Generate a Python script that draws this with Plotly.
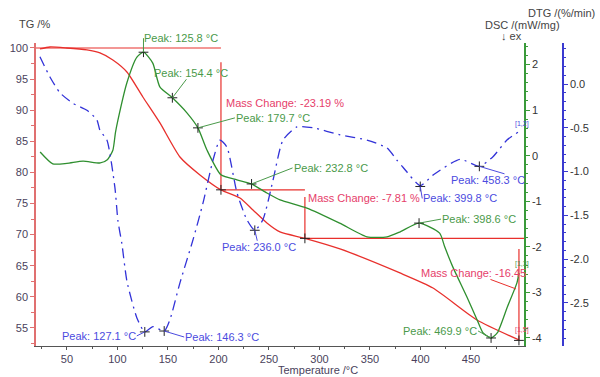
import plotly.graph_objects as go

# ---------------- data ----------------
# TG curve (%)
tg_T = [23.3, 33.2, 50.0, 69.8, 82.7, 95.5, 109.4, 125.2, 142.1, 161.9, 181.7, 202.5,
        221.3, 234.2, 248.0, 260.9, 285.6, 320.3, 379.7, 412.4, 456.0, 497.5]
tg_v = [99.84, 100.16, 100.0, 99.68, 99.2, 98.07, 96.14, 92.12, 87.95, 82.48, 79.6, 77.2,
        75.89, 73.96, 71.87, 70.43, 69.4, 67.7, 63.84, 61.43, 56.28, 53.07]

# DSC curve (mW/mg)
dsc_T = [23.5, 36.0, 50.0, 66.0, 83.0, 90.0, 95.5, 98.0, 100.5, 109.4, 119.3, 125.8, 135.0,
         142.0, 154.4, 168.8, 179.7, 188.6, 202.5, 218.3, 232.8, 248.0, 261.0, 287.6, 320.0,
         347.0, 367.0, 380.0, 398.6, 419.0, 424.0, 432.0, 446.0, 456.0, 462.0, 469.9, 476.0,
         486.0, 495.5, 497.5]
dsc_v = [0.08, -0.18, -0.17, -0.12, -0.16, -0.09, 0.12, 0.50, 0.78, 1.60, 2.16, 2.27, 2.03,
         1.51, 1.27, 0.94, 0.61, 0.125, -0.42, -0.53, -0.62, -0.82, -0.97, -1.15, -1.48,
         -1.78, -1.78, -1.67, -1.48, -1.70, -2.00, -2.44, -3.10, -3.60, -3.89, -4.00, -3.89,
         -3.32, -2.79, -2.57]

# DTG curve (%/min)
dtg_T = [23.3, 33.2, 43.1, 55.9, 69.8, 79.7, 82.7, 89.6, 97.5, 100.5, 104.5, 109.4, 119.3,
         127.1, 135.1, 146.3, 152.0, 161.9, 174.8, 184.7, 194.6, 201.5, 208.4, 218.3, 228.2,
         236.0, 244.0, 254.0, 263.9, 277.7, 293.6, 320.3, 347.0, 366.8, 376.7, 382.7, 399.8,
         412.4, 439.1, 458.3, 471.8, 485.6, 496.5]
dtg_v = [0.31, 0.08, -0.10, -0.22, -0.30, -0.41, -0.53, -0.64, -1.18, -1.56, -1.83, -2.25,
         -2.67, -2.83, -2.77, -2.82, -2.69, -2.27, -1.78, -1.36, -0.87, -0.64, -0.72, -1.24,
         -1.55, -1.67, -1.55, -1.10, -0.64, -0.49, -0.50, -0.58, -0.64, -0.73, -0.87, -0.95,
         -1.16, -1.04, -0.86, -0.94, -0.83, -0.64, -0.55]

# Peaks
dsc_peak_T = [125.8, 154.4, 179.7, 232.8, 398.6, 469.9]
dsc_peak_v = [2.27, 1.27, 0.61, -0.62, -1.48, -4.00]
dtg_peak_T = [127.1, 146.3, 236.0, 399.8, 458.3]
dtg_peak_v = [-2.83, -2.82, -1.67, -1.17, -0.94]

# Mass change steps (TG)
step_T = [202.5, 285.6, 497.5]
step_level = [100.0, 77.2, 69.4, 53.0]
mass_change = [-23.19, -7.81, -16.45]

# Axis ticks
x_ticks = [50, 100, 150, 200, 250, 300, 350, 400, 450]
tg_ticks = [55, 60, 65, 70, 75, 80, 85, 90, 95, 100]
dsc_ticks = [-4, -3, -2, -1, 0, 1, 2]
dtg_ticks = [-2.5, -2.0, -1.5, -1.0, -0.5, 0.0]

# ---------------- styles ----------------
FONT = "Liberation Sans, Arial, sans-serif"
RED = "#e8302c"
GREEN = "#2f8f2f"
BLUE = "#3232d8"
RED_TXT = "#e6406a"
GREEN_TXT = "#4a9a4a"
BLUE_TXT = "#4b4be0"
TICK_TXT = "#4a3f5c"
X_RANGE = [19.4, 502.5]

fig = go.Figure()

fig.add_trace(go.Scatter(x=tg_T, y=tg_v, mode="lines", yaxis="y",
                         line=dict(color=RED, width=1.3, shape="spline", smoothing=0.6),
                         hoverinfo="skip"))
fig.add_trace(go.Scatter(x=dsc_T, y=dsc_v, mode="lines", yaxis="y2",
                         line=dict(color=GREEN, width=1.3, shape="spline", smoothing=0.6),
                         hoverinfo="skip"))
fig.add_trace(go.Scatter(x=dtg_T, y=dtg_v, mode="lines", yaxis="y3",
                         line=dict(color=BLUE, width=1.3, shape="spline", smoothing=0.6,
                                   dash="10px,5px,2px,5px"),
                         hoverinfo="skip"))

# Step lines for mass change
vline_top = [97.7, 76.05, 67.7]
hx = [X_RANGE[0], step_T[0], None, step_T[0], step_T[1], None, step_T[1], X_RANGE[1]]
hy = [step_level[0], step_level[0], None, step_level[1], step_level[1], None,
      step_level[2], step_level[2]]
fig.add_trace(go.Scatter(x=hx, y=hy, mode="lines", yaxis="y",
                         line=dict(color=RED, width=1.2), hoverinfo="skip"))
vx, vy = [], []
for i, t in enumerate(step_T):
    vx += [t, t, None]
    vy += [vline_top[i], step_level[i + 1], None]
fig.add_trace(go.Scatter(x=vx, y=vy, mode="lines", yaxis="y",
                         line=dict(color=RED, width=1.2), hoverinfo="skip"))

# Peak markers
cross = dict(symbol="cross-thin", size=7, line=dict(color="#222222", width=1))
fig.add_trace(go.Scatter(x=dsc_peak_T, y=dsc_peak_v, mode="markers", yaxis="y2",
                         marker=cross, hoverinfo="skip"))
fig.add_trace(go.Scatter(x=dtg_peak_T, y=dtg_peak_v, mode="markers", yaxis="y3",
                         marker=cross, hoverinfo="skip"))
fig.add_trace(go.Scatter(x=step_T, y=step_level[1:], mode="markers", yaxis="y",
                         marker=cross, hoverinfo="skip"))

annotations = []

# DSC peak labels: (ax, ay, xanchor)
dsc_off = [(0, -14, "left"), (19, -25, "center"), (37, -10, "left"),
           (41, -16, "left"), (22, -4, "left"), (-13, -7, "right")]
for t, v, (ax, ay, xa) in zip(dsc_peak_T, dsc_peak_v, dsc_off):
    annotations.append(dict(x=t, y=v, xref="x", yref="y2", text=f"Peak: {t:.1f} °C",
                            showarrow=True, arrowhead=0, arrowwidth=1, arrowcolor=GREEN_TXT,
                            ax=ax, ay=ay, xanchor=xa, yanchor="middle", standoff=0,
                            borderpad=0, font=dict(family=FONT, size=11, color=GREEN_TXT)))

dtg_off = [(-8, 4, "right"), (20, 6, "left"), (4, 17, "center"),
           (2, 12, "left"), (47, 14, "right")]
for t, v, (ax, ay, xa) in zip(dtg_peak_T, dtg_peak_v, dtg_off):
    annotations.append(dict(x=t, y=v, xref="x", yref="y3", text=f"Peak: {t:.1f} °C",
                            showarrow=True, arrowhead=0, arrowwidth=1, arrowcolor=BLUE_TXT,
                            ax=ax, ay=ay, xanchor=xa, yanchor="middle", standoff=0,
                            borderpad=0, font=dict(family=FONT, size=11, color=BLUE_TXT)))

# Mass change labels
mc_pos = [(205.4, 91.16), (286.6, 75.89)]
for (px, py), mc in zip(mc_pos, mass_change[:2]):
    annotations.append(dict(x=px, y=py, xref="x", yref="y", text=f"Mass Change: {mc:.2f} %",
                            showarrow=False, xanchor="left", yanchor="middle",
                            font=dict(family=FONT, size=11, color=RED_TXT)))
annotations.append(dict(x=494.6, y=61.27, xref="x", yref="y",
                        text=f"Mass Change: {mass_change[2]:.2f}",
                        showarrow=True, arrowhead=0, arrowwidth=1, arrowcolor=RED,
                        ax=-43, ay=-16, xanchor="center", yanchor="middle", standoff=0,
                        borderpad=0, font=dict(family=FONT, size=11, color=RED_TXT)))

# small bracket labels
for txt, yy, col in [("[1,2]", 87.8, BLUE_TXT), ("[1,3]", 65.3, GREEN_TXT), ("[1,5]", 54.7, RED_TXT)]:
    annotations.append(dict(x=491.6, y=yy, xref="x", yref="y", text=txt, showarrow=False,
                            xanchor="left", font=dict(family=FONT, size=7, color=col)))

# axis titles
title_font = dict(family=FONT, size=11, color="#444444")
annotations += [
    dict(x=-0.002, y=1.063, xref="paper", yref="paper", text="TG /%", showarrow=False,
         xanchor="center", yanchor="middle", font=title_font),
    dict(x=0.998, y=1.099, xref="paper", yref="paper", text="DTG /(%/min)", showarrow=False,
         xanchor="center", yanchor="middle", font=title_font),
    dict(x=0.924, y=1.059, xref="paper", yref="paper", text="DSC /(mW/mg)", showarrow=False,
         xanchor="center", yanchor="middle", font=title_font),
    dict(x=0.903, y=1.023, xref="paper", yref="paper", text="↓ ex", showarrow=False,
         xanchor="center", yanchor="middle", font=title_font),
    dict(x=0.535, y=-0.0795, xref="paper", yref="paper", text="Temperature /°C",
         showarrow=False, xanchor="center", yanchor="middle",
         font=dict(family=FONT, size=11, color=TICK_TXT)),
]

tickfont = dict(family=FONT, size=11, color=TICK_TXT)
fig.update_layout(
    width=600, height=377,
    margin=dict(l=36, r=37, t=43, b=31),
    paper_bgcolor="white", plot_bgcolor="white",
    showlegend=False,
    xaxis=dict(domain=[0, 488 / 527], range=X_RANGE, tickmode="array", tickvals=x_ticks,
               showgrid=False, zeroline=False, showline=True, linecolor="#555555",
               linewidth=1, ticks="outside", ticklen=3, tickcolor="#555555",
               tickfont=tickfont, automargin=False,
               minor=dict(tickmode="linear", tick0=25, dtick=50, ticks="outside",
                          ticklen=2, tickcolor="#555555", showgrid=False)),
    yaxis=dict(range=[52.1, 100.8], tickmode="array", tickvals=tg_ticks,
               showgrid=False, zeroline=False, showline=True, linecolor="#e07070",
               linewidth=1.5, ticks="outside", ticklen=4, tickcolor="#e07070",
               tickfont=tickfont, automargin=False,
               minor=dict(tickmode="linear", tick0=52.5, dtick=2.5, ticks="outside",
                          ticklen=3, tickcolor="#e07070", showgrid=False)),
    yaxis2=dict(range=[-4.176, 2.472], overlaying="y", side="right", anchor="x",
                tickmode="array", tickvals=dsc_ticks, ticktext=[str(v) for v in dsc_ticks],
                showgrid=False, zeroline=False, showline=True, linecolor="#3a9a3a",
                linewidth=1.5, ticks="outside", ticklen=4, tickcolor="#3a9a3a",
                tickfont=dict(family=FONT, size=11, color="#333333"), automargin=False,
                minor=dict(tickmode="linear", tick0=0, dtick=0.2, ticks="outside",
                           ticklen=2, tickcolor="#3a9a3a", showgrid=False)),
    yaxis3=dict(range=[-2.991, 0.468], overlaying="y", side="right", anchor="free",
                position=1.0, tickmode="array", tickvals=dtg_ticks,
                ticktext=[f"{v:.1f}" for v in dtg_ticks],
                showgrid=False, zeroline=False, showline=True, linecolor="#3a3ad0",
                linewidth=1.5, ticks="outside", ticklen=4, tickcolor="#3a3ad0",
                tickfont=dict(family=FONT, size=11, color="#333333"), automargin=False,
                minor=dict(tickmode="linear", tick0=0, dtick=0.1, ticks="outside",
                           ticklen=2, tickcolor="#3a3ad0", showgrid=False)),
    annotations=annotations,
)

fig.write_html("out.html", config={"displayModeBar": False},
               post_script="document.body.style.margin='0px';document.body.style.padding='0px';")
